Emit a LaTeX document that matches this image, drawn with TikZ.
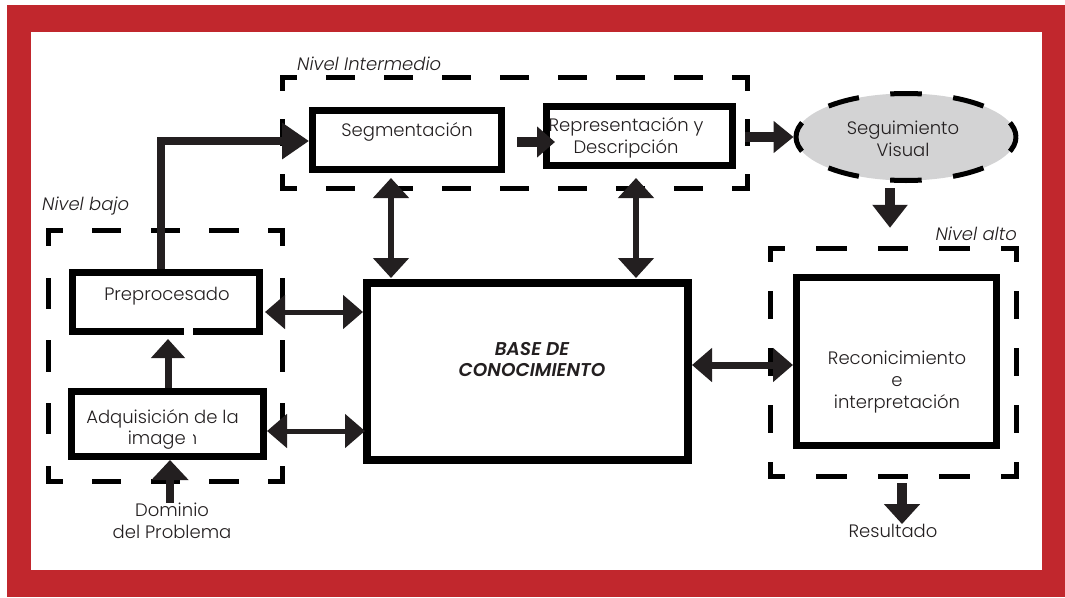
\documentclass[tikz,border=0pt]{standalone}
\usepackage{fontspec}
\setmainfont{Poppins}[UprightFont=* Light, ItalicFont=* Light Italic, BoldFont=* SemiBold, BoldItalicFont=* SemiBold Italic]
\usetikzlibrary{arrows.meta,shapes.geometric,calc}
\definecolor{frame}{RGB}{193,39,45}
\definecolor{ink}{RGB}{35,31,32}
\definecolor{fillgray}{RGB}{211,211,212}
\newcommand\lvlseg[4]{%
 \pgfmathsetmacro\dsLen{veclen(#3-#1,#4-#2)}%
 \pgfmathsetmacro\dsN{max(1,round(\dsLen/58))}%
 \pgfmathsetmacro\dsP{\dsLen/\dsN}%
 \pgfmathsetmacro\dsOn{\dsP/2-5}%
 \pgfmathsetmacro\dsOff{\dsP/2+5}%
 \pgfmathsetmacro\dsPh{\dsP/4-2.5}%
 \draw[dashline, dash pattern=on \dsOn pt off \dsOff pt, dash phase=\dsPh pt] (#1,#2) -- (#3,#4);}
\newcommand\lvlbox[4]{\lvlseg{#1}{#2}{#3}{#2}\lvlseg{#3}{#2}{#3}{#4}\lvlseg{#3}{#4}{#1}{#4}\lvlseg{#1}{#4}{#1}{#2}}
\tikzset{
 box/.style={draw=black, line width=7pt, inner sep=0pt},
 txt/.style={text=ink, font=\fontsize{18}{22}\selectfont, align=center, inner sep=0pt},
 lbl/.style={text=ink, font=\fontsize{18}{22}\selectfont\itshape, inner sep=0pt},
 dashline/.style={draw=black, line width=5pt, line cap=rect},
 ar/.style={draw=ink},
 fw/.style 2 args={arrows={-{Triangle[length=#1pt,width=#2pt]}}},
 bw/.style 2 args={arrows={{Triangle[length=#1pt,width=#2pt]}-{Triangle[length=#1pt,width=#2pt]}}},
 zone/.style={inner sep=0pt}
}
\begin{document}
\begin{tikzpicture}[x=1pt,y=-1pt]
\useasboundingbox (0,0) rectangle (1065,597);
\fill[white] (0,0) rectangle (1065,597);
\fill[frame] (7,5) rectangle (1065,597);
\fill[white] (31,32) rectangle (1042,570);

% dashed level boxes
\lvlbox{48}{230.5}{282.5}{481.5}
\lvlbox{282}{77}{747}{188}
\lvlbox{770}{248}{1016}{476}
\node[zone, minimum width=234.5pt, minimum height=251pt] (bajo) at (165.25,356) {};
\node[zone, minimum width=465pt, minimum height=111pt] (inter) at (514.5,132.5) {};
\node[zone, minimum width=246pt, minimum height=228pt] (alto) at (893,362) {};

% boxes
\node[box, minimum width=187pt, minimum height=59pt] (pre) at (166,302) {};
\node[box, minimum width=192pt, minimum height=65pt] (adq) at (167,424) {};
\node[box, minimum width=189pt, minimum height=59pt] (seg) at (407,140) {};
\node[box, minimum width=186pt, minimum height=59pt] (rep) at (639.5,136) {};
\node[box, line width=8pt, minimum width=321pt, minimum height=177pt] (base) at (527.5,371.5) {};
\node[box, minimum width=200pt, minimum height=168pt] (rec) at (896.5,361.5) {};
\node[ellipse, draw=black, fill=fillgray, line width=5pt, dash pattern=on 31.56pt off 31.56pt, dash phase=15.78pt, minimum width=220pt, minimum height=87pt, inner sep=0pt] (vis) at (906,137) {};

% texts
\node[txt] (tpre) at (167,296) {Preprocesado};
\node[txt] (tadq1) at (162.5,419) {Adquisición de la};
\node[txt] (tadq2) at (162.5,440) {imagen};
\node[txt] (tseg) at (407,132) {Segmentación};
\node[txt] (trep) at (626,138) {Representación y\\Descripción};
\node[txt] (tvis) at (903,139) {Seguimiento\\Visual};
\node[txt] (trec) at (897,382) {Reconicimiento\\e\\interpretación};
\node[txt, font=\fontsize{18.5}{21}\selectfont\bfseries\itshape] (tbase) at (532,359.5) {BASE DE\\CONOCIMIENTO};
\node[lbl, anchor=west] (lbajo) at (42,206) {Nivel bajo};
\node[lbl, anchor=west] (linter) at (297,64) {Nivel Intermedio};
\node[lbl, anchor=east] (lalto) at (1017,234) {Nivel alto};
\node[txt] (res) at (893,531) {Resultado};
\node[txt] (dom) at (172,521) {Dominio\\del Problema};

% connectors
\coordinate (k1) at (161,141);
\draw[ar, line width=8pt, fw={27}{35}] (pre.north -| k1) -- (k1) -- (seg.west |- k1);
\draw[ar, line width=10pt, fw={18}{30}] ($(seg.east)+(12,2)$) -- ($(rep.west)+(12,6)$);
\draw[ar, line width=10pt, fw={20}{31}] ($(rep.east)+(9,1)$) -- (vis.west);
\draw[ar, line width=10pt, fw={23}{34}] ($(vis.south)+(-16,5)$) -- ($(alto.north)+(-3,-20)$);
\draw[ar, line width=10pt, fw={20}{35}] ($(alto.south)+(9,7)$) -- ($(res.north)+(9,0)$);
\draw[ar, line width=7pt, bw={20}{33}] ($(base.east)+(0,-6.5)$) -- ($(rec.west)+(0,3.5)$);
\draw[ar, line width=5.5pt, bw={20}{35}] ($(seg.south)+(-16,5)$) -- ($(base.north)+(-136.5,-1)$);
\draw[ar, line width=5.5pt, bw={20}{35}] ($(rep.south)+(-3.5,9)$) -- ($(base.north)+(108.5,-1)$);
\draw[ar, line width=5pt, bw={20}{33}] ($(pre.east)+(2,10)$) -- ($(base.west)+(0,-59.5)$);
\draw[ar, line width=5pt, bw={20}{33}] ($(adq.east)+(0.5,7)$) -- ($(base.west)+(2,59.5)$);
\draw[ar, line width=7pt, fw={19}{33}] ($(adq.north)+(1,0)$) -- ($(pre.south)+(2,4)$);
\draw[ar, line width=8pt, fw={20}{36}] ($(dom.north)+(-2,0)$) -- ($(adq.south)+(3,0)$);

% small white gaps as in the source
\fill[white] (184,327) rectangle (193,336);
\fill[white] ($(tadq2.north east)+(-11,0)$) rectangle ($(tadq2.south east)+(-4,0)$);
\end{tikzpicture}
\end{document}
